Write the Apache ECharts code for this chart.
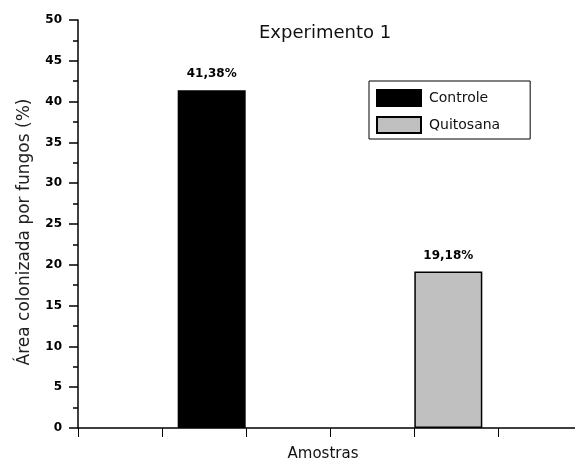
<!DOCTYPE html>
<html>
<head>
<meta charset="utf-8">
<script src="https://cdn.jsdelivr.net/npm/echarts@6/dist/echarts.min.js"></script>
<style>html,body{margin:0;padding:0;background:#fff;}#c{width:575px;height:461px;}</style>
</head>
<body>
<div id="c"></div>
<script>
var categories = ['Amostras'];
var seriesNames = ['Controle', 'Quitosana'];
var controleValues = [41.38];
var quitosanaValues = [19.18];
var titleText = 'Experimento 1';
var yAxisName = 'Área colonizada por fungos (%)';
var xAxisName = 'Amostras';

var chart = echarts.init(document.getElementById('c'), null, {renderer: 'canvas'});
function fmt(p) { return p.value.toFixed(2).replace('.', ',') + '%'; }
var labelStyle = {
  show: true, position: 'top', distance: 10, formatter: fmt,
  fontFamily: 'DejaVu Sans', fontWeight: 'bold', fontSize: 12, color: '#000'
};
chart.setOption({
  animation: false,
  backgroundColor: '#fff',
  title: {
    text: titleText, left: 254, top: 19,
    textStyle: {fontFamily: 'DejaVu Sans', fontSize: 18, fontWeight: 'normal', color: '#111'}
  },
  legend: {
    data: seriesNames,
    orient: 'vertical',
    left: 369, top: 81,
    padding: [8, 30, 5, 7],
    itemWidth: 44, itemHeight: 16, itemGap: 9,
    borderColor: '#000', borderWidth: 1,
    icon: 'rect',
    textStyle: {fontFamily: 'DejaVu Sans', fontSize: 14, color: '#111', padding: [0, 0, 0, 3]}
  },
  grid: {left: 78, top: 20, width: 504, bottom: 33, containLabel: false, outerBoundsMode: 'none'},
  xAxis: [{
    type: 'category', data: categories, position: 'bottom',
    name: xAxisName, nameLocation: 'middle', nameGap: 19,
    nameTextStyle: {fontFamily: 'DejaVu Sans', fontSize: 15, color: '#111', padding: [0, 14, 0, 0]},
    axisLine: {show: true, lineStyle: {color: '#000', width: 1.5}},
    axisTick: {show: false}, axisLabel: {show: false}, splitLine: {show: false}
  }, {
    type: 'value', position: 'bottom', min: 0, max: 6, interval: 1,
    axisLine: {show: false},
    axisTick: {show: true, inside: false, length: 9, lineStyle: {color: '#000', width: 1}},
    axisLabel: {show: false}, splitLine: {show: false}
  }],
  yAxis: {
    type: 'value', min: 0, max: 50, interval: 5,
    name: yAxisName, nameLocation: 'middle', nameRotate: 90, nameGap: 45,
    nameTextStyle: {fontFamily: 'DejaVu Sans', fontSize: 17, color: '#222', padding: [0, 16, 0, 0]},
    axisLine: {show: true, lineStyle: {color: '#000', width: 1.5}},
    axisTick: {show: true, length: 9, lineStyle: {color: '#000', width: 1.5}},
    minorTick: {show: true, splitNumber: 2, length: 5, lineStyle: {color: '#000', width: 1.5}},
    axisLabel: {margin: 16, fontFamily: 'DejaVu Sans', fontWeight: 'bold', fontSize: 12, color: '#000'},
    splitLine: {show: false}
  },
  series: [{
    name: seriesNames[0], type: 'bar', xAxisIndex: 0, data: controleValues,
    barWidth: 68, barGap: '248%',
    itemStyle: {color: '#000', borderColor: '#000', borderWidth: 1.5},
    label: labelStyle
  }, {
    name: seriesNames[1], type: 'bar', xAxisIndex: 0, data: quitosanaValues,
    barWidth: 68, barGap: '248%',
    itemStyle: {color: '#c0c0c0', borderColor: '#000', borderWidth: 1.5},
    label: labelStyle
  }]
});
</script>
</body>
</html>
